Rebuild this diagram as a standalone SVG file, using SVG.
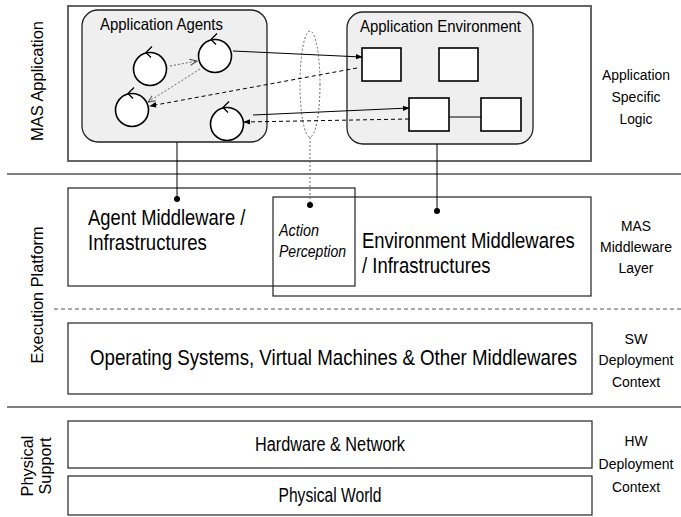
<svg xmlns="http://www.w3.org/2000/svg" width="681" height="517" viewBox="0 0 681 517">
<defs>
<marker id="fa" viewBox="0 0 10 10" refX="9" refY="5" markerWidth="7" markerHeight="7" orient="auto" markerUnits="userSpaceOnUse"><path d="M0,1 L10,5 L0,9 z" fill="#000"/></marker>
<marker id="oa" viewBox="0 0 10 10" refX="9" refY="5" markerWidth="8" markerHeight="8" orient="auto" markerUnits="userSpaceOnUse"><path d="M0,1 L9,5 L0,9" fill="none" stroke="#444" stroke-width="1.2"/></marker>
</defs>
<style>
text{font-family:"Liberation Sans",Arial,sans-serif;fill:#000}
.box{fill:#fff;stroke:#222;stroke-width:1.2}
.outer{fill:none;stroke:#555;stroke-width:1.8}
.sep{stroke:#555;stroke-width:1.5}
.rbox{fill:#efefef;stroke:#222;stroke-width:1.3}
.sq{fill:#fff;stroke:#000;stroke-width:1.6}
.ag{fill:#fff;stroke:#000;stroke-width:1.6}
.tick{fill:none;stroke:#000;stroke-width:1.3}
.lbl{font-size:15.5px;text-anchor:middle}
.big{font-size:21.5px}
.side{font-size:17px;text-anchor:middle}
.hdr{font-size:16.5px}
.ital{font-size:16.5px;font-style:italic}
.solid{stroke:#000;stroke-width:1;fill:none}
.dash{stroke:#000;stroke-width:1;stroke-dasharray:4,3;fill:none}
.dot{stroke:#666;stroke-width:1;stroke-dasharray:2,2;fill:none}
</style>
<g id="layers">
<line class="sep" x1="7" y1="174" x2="681" y2="174"/>
<line class="sep" x1="7" y1="407" x2="681" y2="407"/>
<line x1="54" y1="309" x2="681" y2="309" stroke="#555" stroke-width="1" stroke-dasharray="4,3"/>
</g>
<g id="side-labels">
<text class="side" transform="translate(43,81) rotate(-90)" textLength="120" lengthAdjust="spacingAndGlyphs">MAS Application</text>
<text class="side" transform="translate(43,295) rotate(-90)" textLength="137" lengthAdjust="spacingAndGlyphs">Execution Platform</text>
<text class="side" transform="translate(33,466) rotate(-90)" textLength="61" lengthAdjust="spacingAndGlyphs">Physical</text>
<text class="side" transform="translate(51,466) rotate(-90)" textLength="57" lengthAdjust="spacingAndGlyphs">Support</text>
<text class="lbl" x="636" y="80" textLength="68" lengthAdjust="spacingAndGlyphs">Application</text>
<text class="lbl" x="636" y="102" textLength="49" lengthAdjust="spacingAndGlyphs">Specific</text>
<text class="lbl" x="636" y="124" textLength="33" lengthAdjust="spacingAndGlyphs">Logic</text>
<text class="lbl" x="636" y="231" textLength="30" lengthAdjust="spacingAndGlyphs">MAS</text>
<text class="lbl" x="636" y="252" textLength="72" lengthAdjust="spacingAndGlyphs">Middleware</text>
<text class="lbl" x="636" y="273" textLength="35" lengthAdjust="spacingAndGlyphs">Layer</text>
<text class="lbl" x="636" y="344" textLength="23" lengthAdjust="spacingAndGlyphs">SW</text>
<text class="lbl" x="636" y="365" textLength="75" lengthAdjust="spacingAndGlyphs">Deployment</text>
<text class="lbl" x="636" y="387" textLength="48" lengthAdjust="spacingAndGlyphs">Context</text>
<text class="lbl" x="636" y="446" textLength="23" lengthAdjust="spacingAndGlyphs">HW</text>
<text class="lbl" x="636" y="469" textLength="75" lengthAdjust="spacingAndGlyphs">Deployment</text>
<text class="lbl" x="636" y="492" textLength="48" lengthAdjust="spacingAndGlyphs">Context</text>
</g>
<g id="mas-application">
<rect class="outer" x="68" y="6" width="523" height="155"/>
</g>
<g id="application-agents">
<rect class="rbox" x="82" y="10" width="185" height="132" rx="16"/>
<text class="hdr" x="100" y="30" textLength="123" lengthAdjust="spacingAndGlyphs">Application Agents</text>
</g>
<g id="agent1"><circle class="ag" cx="150" cy="69" r="16.5"/><path class="tick" d="M152,46.5 L146,52.5 L151,57.5"/></g>
<g id="agent2"><circle class="ag" cx="215" cy="56" r="16.5"/><path class="tick" d="M217,33.5 L211,39.5 L216,44.5"/></g>
<g id="agent3"><circle class="ag" cx="132" cy="110" r="16.5"/><path class="tick" d="M134,87.5 L128,93.5 L133,98.5"/></g>
<g id="agent4"><circle class="ag" cx="227" cy="124" r="16.5"/><path class="tick" d="M229,101.5 L223,107.5 L228,112.5"/></g>
<g id="application-environment">
<rect class="rbox" x="347" y="12" width="186" height="132" rx="16"/>
<text class="hdr" x="360" y="32" textLength="161" lengthAdjust="spacingAndGlyphs">Application Environment</text>
</g>
<g id="artifact1"><rect class="sq" x="362" y="48" width="39" height="33"/></g>
<g id="artifact2"><rect class="sq" x="439" y="48" width="39" height="33"/></g>
<g id="artifact3"><rect class="sq" x="409" y="98" width="40" height="33"/></g>
<g id="artifact4"><rect class="sq" x="481" y="98" width="40" height="33"/></g>
<g id="action-perception-scope"><ellipse cx="310" cy="84" rx="10" ry="53" fill="none" stroke="#666" stroke-width="1" stroke-dasharray="2,2"/></g>
<g id="agent-middleware">
<rect class="box" x="68" y="188" width="287" height="98"/>
<text class="big" transform="translate(88,225) scale(0.855,1)">Agent Middleware /</text>
<text class="big" transform="translate(88,250) scale(0.865,1)">Infrastructures</text>
</g>
<g id="environment-middleware">
<rect x="273" y="197" width="318" height="99" fill="none" stroke="#222" stroke-width="1.2"/>
<text class="big" transform="translate(362,248) scale(0.86,1)">Environment Middlewares</text>
<text class="big" transform="translate(362,273) scale(0.86,1)">/ Infrastructures</text>
</g>
<g id="action-perception">
<text class="ital" x="279" y="236" textLength="40" lengthAdjust="spacingAndGlyphs">Action</text>
<text class="ital" x="279" y="257" textLength="67" lengthAdjust="spacingAndGlyphs">Perception</text>
</g>
<g id="os">
<rect class="box" x="68" y="323" width="524" height="71"/>
<text class="big" transform="translate(90,365) scale(0.87,1)">Operating Systems, Virtual Machines &amp; Other Middlewares</text>
</g>
<g id="hardware">
<rect class="box" x="68" y="421" width="524" height="47"/>
<text class="big" x="330" y="451" text-anchor="middle" style="font-size:19.5px" textLength="150" lengthAdjust="spacingAndGlyphs">Hardware &amp; Network</text>
</g>
<g id="physical-world">
<rect class="box" x="68" y="476" width="524" height="39"/>
<text class="big" x="330" y="502" text-anchor="middle" style="font-size:19.5px" textLength="103" lengthAdjust="spacingAndGlyphs">Physical World</text>
</g>
<g id="connectors">
<line class="dot" x1="170" y1="66" x2="197" y2="61" marker-end="url(#oa)"/>
<line class="dot" x1="200" y1="69" x2="148" y2="102" marker-end="url(#oa)"/>
<line class="solid" x1="233" y1="51" x2="362" y2="57" marker-end="url(#fa)"/>
<line class="dash" x1="357" y1="68" x2="150" y2="106" marker-end="url(#fa)"/>
<line class="solid" x1="253" y1="115" x2="409" y2="108" marker-end="url(#fa)"/>
<line class="dash" x1="409" y1="119" x2="244" y2="122" marker-end="url(#fa)"/>
<line class="solid" x1="449" y1="117" x2="481" y2="117"/>
<line class="solid" x1="177" y1="142" x2="177" y2="199"/>
<circle cx="177" cy="199" r="3"/>
<line class="solid" x1="437" y1="144" x2="437" y2="211"/>
<circle cx="437" cy="211" r="3"/>
<line class="dot" x1="310" y1="137" x2="310" y2="205"/>
<circle cx="310" cy="205" r="3"/>
</g>
</svg>
